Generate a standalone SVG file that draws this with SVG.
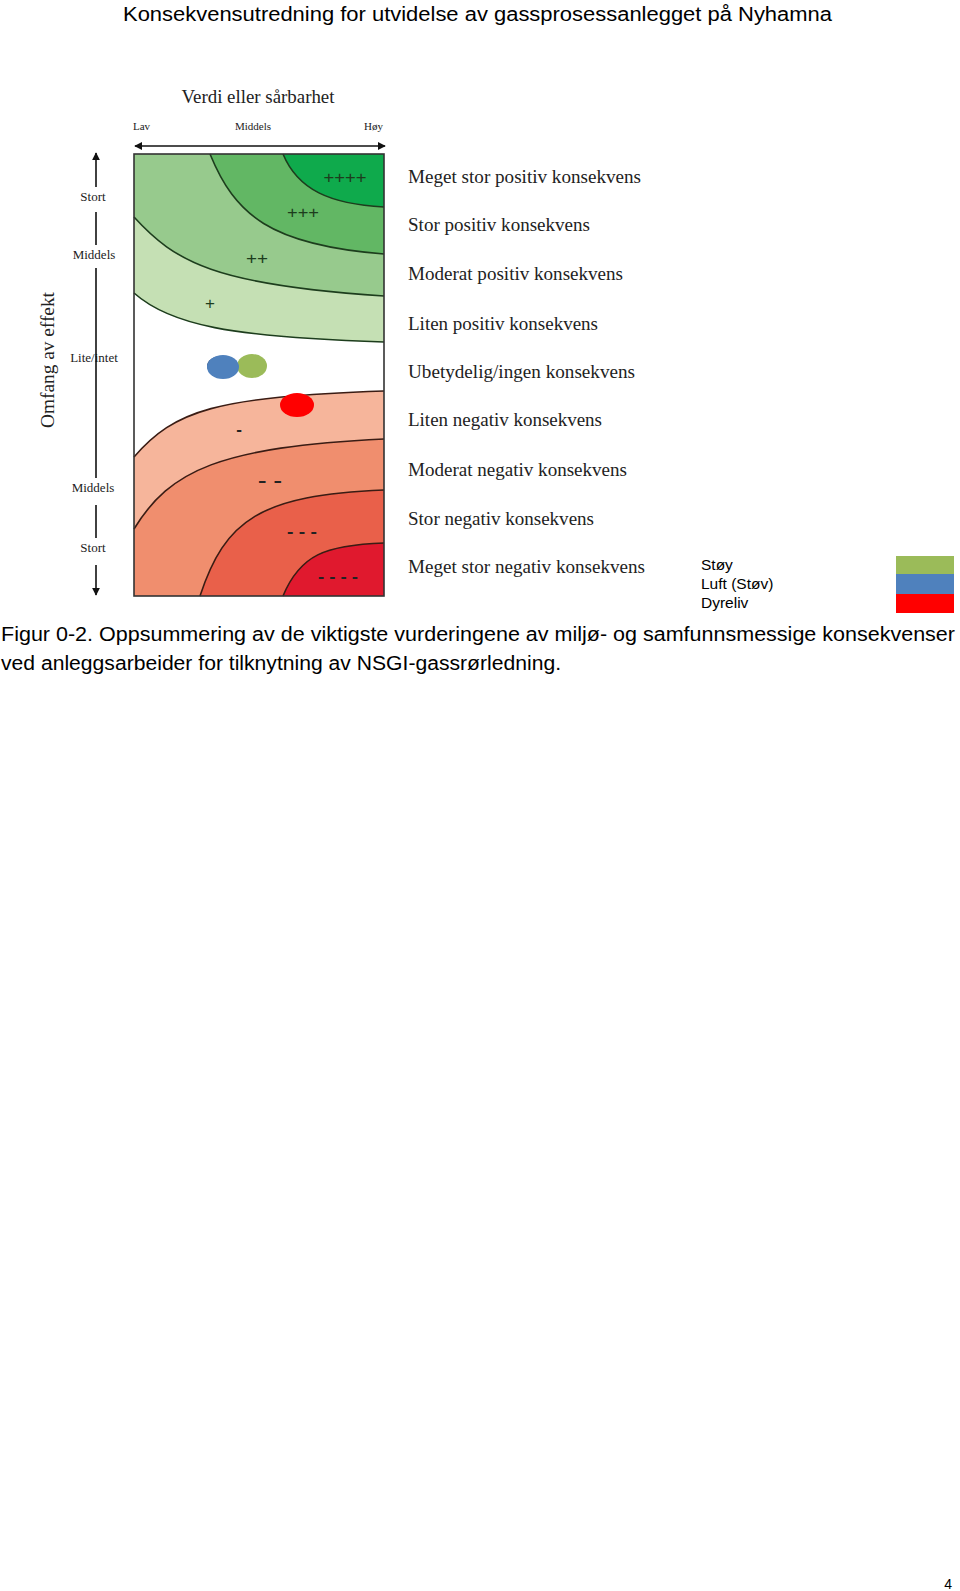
<svg xmlns="http://www.w3.org/2000/svg" width="960" height="1591" viewBox="0 0 960 1591">
<style>
.serif{font-family:"Liberation Serif","Times New Roman",serif;fill:#222}
.sans{font-family:"Liberation Sans",Arial,sans-serif;fill:#000}
.bg{stroke:#1d3d1d;stroke-width:1.6;fill:none}
.br{stroke:#3a1c14;stroke-width:1.6;fill:none}
.ax{stroke:#111;stroke-width:1.6;fill:none}
.leg{font-size:18px}
</style>
<defs>
<marker id="ah" viewBox="0 0 10 10" refX="9" refY="5" markerWidth="8" markerHeight="8" markerUnits="userSpaceOnUse" orient="auto-start-reverse">
<path d="M0,0 L10,5 L0,10 Z" fill="#111"/>
</marker>
</defs>
<rect width="960" height="1591" fill="#fff"/>
<g id="header">
<text class="sans" x="123" y="21" font-size="19.5" textLength="709" lengthAdjust="spacingAndGlyphs">Konsekvensutredning for utvidelse av gassprosessanlegget på Nyhamna</text>
</g>
<g id="chart">
<g id="green-zones">
<path d="M134,154 L384,154 L384,342 C230,337 170,325 134,293 Z" fill="#c5e0b4"/>
<path d="M134,154 L384,154 L384,296 C215,285 175,262 134,217 Z" fill="#97ca8d"/>
<path d="M210,154 L384,154 L384,254 C270,245 235,215 210,154 Z" fill="#62b764"/>
<path d="M283,154 L384,154 L384,207 C330,204 298,190 283,154 Z" fill="#0faa4c"/>
<path class="bg" d="M134,293 C170,325 230,337 384,342"/>
<path class="bg" d="M134,217 C175,262 215,285 384,296"/>
<path class="bg" d="M210,154 C235,215 270,245 384,254"/>
<path class="bg" d="M283,154 C298,190 330,204 384,207"/>
</g>
<g id="red-zones">
<path d="M134,596 L384,596 L384,391 C215,397 175,410 134,457 Z" fill="#f6b59b"/>
<path d="M134,596 L384,596 L384,439 C220,447 170,470 134,529 Z" fill="#f08e6e"/>
<path d="M200,596 L384,596 L384,490 C260,495 225,520 200,596 Z" fill="#e9604a"/>
<path d="M283,596 L384,596 L384,543 C325,545 300,555 283,596 Z" fill="#e0192e"/>
<path class="br" d="M134,457 C175,410 215,397 384,391"/>
<path class="br" d="M134,529 C170,470 220,447 384,439"/>
<path class="br" d="M200,596 C225,520 260,495 384,490"/>
<path class="br" d="M283,596 C300,555 325,545 384,543"/>
</g>
<rect x="134" y="154" width="250" height="442" fill="none" stroke="#333" stroke-width="1.6"/>
<g id="zone-labels" class="sans" font-size="17" text-anchor="middle">
<text x="345" y="183" fill="#1d3d1d" textLength="43" lengthAdjust="spacingAndGlyphs">++++</text>
<text x="303" y="218" fill="#1d3d1d" textLength="32" lengthAdjust="spacingAndGlyphs">+++</text>
<text x="257" y="264" fill="#1d3d1d" textLength="22" lengthAdjust="spacingAndGlyphs">++</text>
<text x="210" y="309" fill="#1d3d1d">+</text>
<text x="239" y="435" fill="#222" font-weight="bold">-</text>
<text x="270" y="486" fill="#222" font-weight="bold" textLength="24" lengthAdjust="spacingAndGlyphs">- -</text>
<text x="302" y="537" fill="#222" font-weight="bold" textLength="30" lengthAdjust="spacingAndGlyphs">- - -</text>
<text x="338" y="582" fill="#222" font-weight="bold" textLength="40" lengthAdjust="spacingAndGlyphs">- - - -</text>
</g>
</g>
<g id="axis-labels" class="serif">
<text x="258" y="103" font-size="18" text-anchor="middle" textLength="153" lengthAdjust="spacingAndGlyphs">Verdi eller sårbarhet</text>
<text x="133" y="130" font-size="11">Lav</text>
<text x="253" y="130" font-size="11" text-anchor="middle">Middels</text>
<text x="383" y="130" font-size="11" text-anchor="end">Høy</text>
<text x="93" y="201" font-size="13" text-anchor="middle">Stort</text>
<text x="94" y="259" font-size="13" text-anchor="middle">Middels</text>
<text x="94" y="362" font-size="13" text-anchor="middle">Lite/intet</text>
<text x="93" y="492" font-size="13" text-anchor="middle">Middels</text>
<text x="93" y="552" font-size="13" text-anchor="middle">Stort</text>
<text transform="translate(54,360) rotate(-90)" font-size="18" text-anchor="middle" textLength="136" lengthAdjust="spacingAndGlyphs">Omfang av effekt</text>
</g>
<g id="connectors">
<line class="ax" x1="135" y1="146" x2="385" y2="146" stroke-width="2" marker-start="url(#ah)" marker-end="url(#ah)"/>
<line class="ax" x1="96" y1="187" x2="96" y2="153" marker-end="url(#ah)"/>
<line class="ax" x1="96" y1="212" x2="96" y2="245"/>
<line class="ax" x1="96" y1="268" x2="96" y2="478"/>
<line class="ax" x1="96" y1="505" x2="96" y2="538"/>
<line class="ax" x1="96" y1="565" x2="96" y2="595" marker-end="url(#ah)"/>
</g>
<g id="dot-stoy"><ellipse cx="252" cy="366" rx="15" ry="12" fill="#9bbb59"/></g>
<g id="dot-luft">
<ellipse cx="221" cy="366" rx="14" ry="10" fill="#2e4a70"/>
<ellipse cx="223" cy="367" rx="16" ry="12" fill="#4f81bd"/>
</g>
<g id="dot-dyreliv"><ellipse cx="297" cy="405" rx="17" ry="12" fill="#ff0000"/></g>
<g id="legend" class="serif leg">
<text x="408" y="183" textLength="233" lengthAdjust="spacingAndGlyphs">Meget stor positiv konsekvens</text>
<text x="408" y="231" textLength="182" lengthAdjust="spacingAndGlyphs">Stor positiv konsekvens</text>
<text x="408" y="280" textLength="215" lengthAdjust="spacingAndGlyphs">Moderat positiv konsekvens</text>
<text x="408" y="330" textLength="190" lengthAdjust="spacingAndGlyphs">Liten positiv konsekvens</text>
<text x="408" y="378" textLength="227" lengthAdjust="spacingAndGlyphs">Ubetydelig/ingen konsekvens</text>
<text x="408" y="426" textLength="194" lengthAdjust="spacingAndGlyphs">Liten negativ konsekvens</text>
<text x="408" y="476" textLength="219" lengthAdjust="spacingAndGlyphs">Moderat negativ konsekvens</text>
<text x="408" y="525" textLength="186" lengthAdjust="spacingAndGlyphs">Stor negativ konsekvens</text>
<text x="408" y="573" textLength="237" lengthAdjust="spacingAndGlyphs">Meget stor negativ konsekvens</text>
</g>
<g id="key">
<text class="sans" x="701" y="570" font-size="15.5">Støy</text>
<text class="sans" x="701" y="589" font-size="15.5">Luft (Støv)</text>
<text class="sans" x="701" y="608" font-size="15.5">Dyreliv</text>
<rect x="896" y="556" width="58" height="18" fill="#9bbb59"/>
<rect x="896" y="574" width="58" height="20" fill="#4f81bd"/>
<rect x="896" y="594" width="58" height="19" fill="#ff0000"/>
</g>
<g id="caption" class="sans" font-size="20">
<text x="1" y="641" textLength="954" lengthAdjust="spacingAndGlyphs">Figur 0-2. Oppsummering av de viktigste vurderingene av miljø- og samfunnsmessige konsekvenser</text>
<text x="1" y="670" textLength="560" lengthAdjust="spacingAndGlyphs">ved anleggsarbeider for tilknytning av NSGI-gassrørledning.</text>
</g>
<g id="page-number">
<text class="sans" x="952" y="1589" font-size="14" text-anchor="end">4</text>
</g>
</svg>
